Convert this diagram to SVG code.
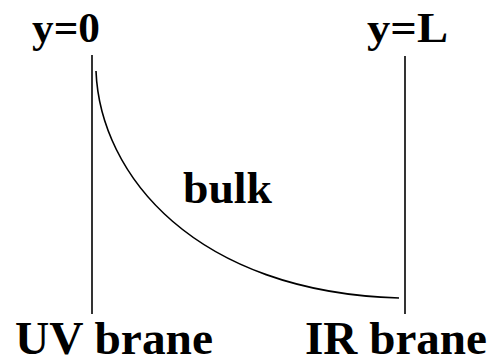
<svg xmlns="http://www.w3.org/2000/svg" width="491" height="360" viewBox="0 0 491 360">
<style>
text{font-family:'Liberation Serif','Times New Roman',serif;font-weight:700;fill:#000}
.ln{stroke:#000;stroke-width:1.6;fill:none}
</style>
<rect width="491" height="360" fill="#fff"/>
<g id="uv-brane">
<line class="ln" x1="92" y1="55" x2="92" y2="314"/>
<text x="32" y="42" font-size="42" textLength="68" lengthAdjust="spacingAndGlyphs">y=0</text>
<text x="15" y="354" font-size="47" textLength="198" lengthAdjust="spacingAndGlyphs">UV brane</text>
</g>
<g id="ir-brane">
<line class="ln" x1="405" y1="56" x2="405" y2="314"/>
<text x="367" y="42" font-size="42" textLength="81" lengthAdjust="spacingAndGlyphs">y=L</text>
<text x="305" y="354" font-size="47" textLength="182" lengthAdjust="spacingAndGlyphs">IR brane</text>
</g>
<g id="bulk">
<text x="183" y="203" font-size="44" textLength="89" lengthAdjust="spacingAndGlyphs">bulk</text>
</g>
<g id="connectors">
<path class="ln" stroke-width="2" d="M96,71 C100,175 195,292 399,298"/>
</g>
</svg>
